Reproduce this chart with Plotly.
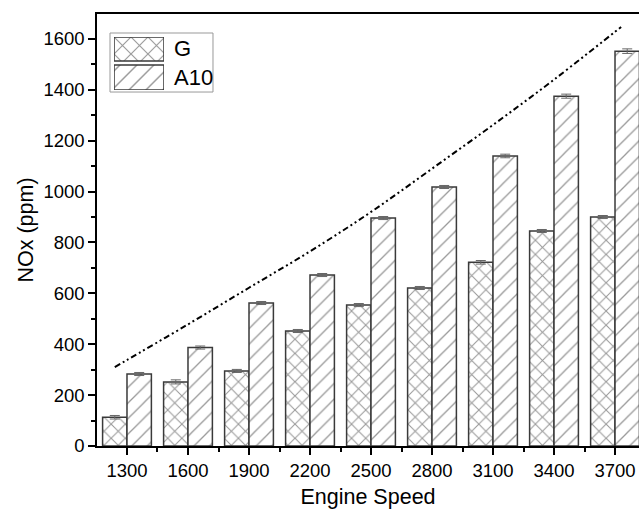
import plotly.graph_objects as go

speeds = [1300, 1600, 1900, 2200, 2500, 2800, 3100, 3400, 3700]
nox_g = [113, 252, 295, 452, 554, 621, 722, 845, 900]
nox_a10 = [283, 387, 562, 672, 896, 1018, 1140, 1375, 1552]
err_g = [7, 8, 6, 6, 6, 6, 7, 6, 6]
err_a10 = [6, 6, 6, 6, 6, 6, 7, 8, 9]

trend_x = [1240, 1300, 1600, 1900, 2200, 2500, 2800, 3100, 3400, 3700, 3730]
trend_y = [310, 338, 478, 622, 765, 920, 1090, 1262, 1440, 1628, 1647]

FONT = "Liberation Sans, Arial, sans-serif"
OUT = "#3a3a3a"
HATCH = "#333333"

fig = go.Figure()
fig.add_trace(go.Bar(
    x=speeds, y=nox_g, name="G",
    marker=dict(color="white", line=dict(color=OUT, width=1.5),
                pattern=dict(shape="x", size=10, solidity=0.2, fgcolor=HATCH, bgcolor="white")),
    error_y=dict(type="data", array=err_g, color="#666666", thickness=1, width=5),
    showlegend=False))
fig.add_trace(go.Bar(
    x=speeds, y=nox_a10, name="A10",
    marker=dict(color="white", line=dict(color=OUT, width=1.5),
                pattern=dict(shape="/", size=11, solidity=0.12, fgcolor=HATCH, bgcolor="white")),
    error_y=dict(type="data", array=err_a10, color="#666666", thickness=1, width=5),
    showlegend=False))
fig.add_trace(go.Scatter(
    x=trend_x, y=trend_y, mode="lines", line=dict(color="black", width=2,
    dash="6px,3px,2px,3px,2px,3px", shape="spline"), showlegend=False))

# manual legend swatches on an overlay axis
fig.add_trace(go.Bar(x=[0.5], y=[0.91], base=[1.09], width=[1], offset=[-0.5],
                     xaxis="x2", yaxis="y2", showlegend=False,
                     marker=dict(color="white", line=dict(color=OUT, width=1.5),
                                 pattern=dict(shape="x", size=12, solidity=0.18, fgcolor=HATCH, bgcolor="white"))))
fig.add_trace(go.Bar(x=[0.5], y=[0.94], base=[0], width=[1], offset=[-0.5],
                     xaxis="x2", yaxis="y2", showlegend=False,
                     marker=dict(color="white", line=dict(color=OUT, width=1.5),
                                 pattern=dict(shape="/", size=12, solidity=0.12, fgcolor=HATCH, bgcolor="white"))))

fig.update_layout(
    width=639, height=511,
    margin=dict(l=97, r=0, t=14, b=65),
    paper_bgcolor="white", plot_bgcolor="white",
    barmode="group", bargap=0.2, bargroupgap=0,
    font=dict(family=FONT, color="black", size=18),
    xaxis=dict(range=[1152.5, 3818], tickvals=speeds, ticktext=[str(s) for s in speeds],
               ticks="outside", ticklen=7, tickwidth=1.5, tickcolor="black",
               showline=True, linecolor="black", linewidth=1.5, mirror=True,
               showgrid=False, zeroline=False,
               minor=dict(ticks="outside", ticklen=4, tickwidth=1.5, tick0=1150, dtick=300, tickcolor="black"),
               title=dict(text="Engine Speed", font=dict(size=21.5), standoff=9),
               tickfont=dict(size=18.5)),
    yaxis=dict(range=[0, 1698], tickvals=[0, 200, 400, 600, 800, 1000, 1200, 1400, 1600],
               ticks="outside", ticklen=7, tickwidth=1.5, tickcolor="black",
               showline=True, linecolor="black", linewidth=1.5,
               showgrid=False, zeroline=False,
               minor=dict(ticks="outside", ticklen=4, tickwidth=1.5, tick0=0, dtick=100, tickcolor="black"),
               title=dict(text="NOx (ppm)", font=dict(size=21.5), standoff=4),
               tickfont=dict(size=18.5)),
    xaxis2=dict(domain=[0.0314, 0.1236], range=[0, 1], visible=False, fixedrange=True, anchor="y2"),
    yaxis2=dict(domain=[0.8241, 0.9468], range=[0, 2], visible=False, fixedrange=True, anchor="x2"),
    shapes=[dict(type="rect", xref="paper", yref="paper", x0=0.024, x1=0.214, y0=0.8194, y1=0.956,
                 line=dict(color="#999999", width=1), fillcolor="rgba(0,0,0,0)", layer="below")],
    annotations=[
        dict(text="G", xref="paper", yref="paper", x=0.138, y=0.919, xanchor="left", yanchor="middle",
             showarrow=False, font=dict(size=22)),
        dict(text="A10", xref="paper", yref="paper", x=0.138, y=0.854, xanchor="left", yanchor="middle",
             showarrow=False, font=dict(size=22)),
    ],
)

fig.write_html("out.html", config={"displayModeBar": False},
               post_script="document.body.style.margin='0';document.body.style.overflow='hidden';")
